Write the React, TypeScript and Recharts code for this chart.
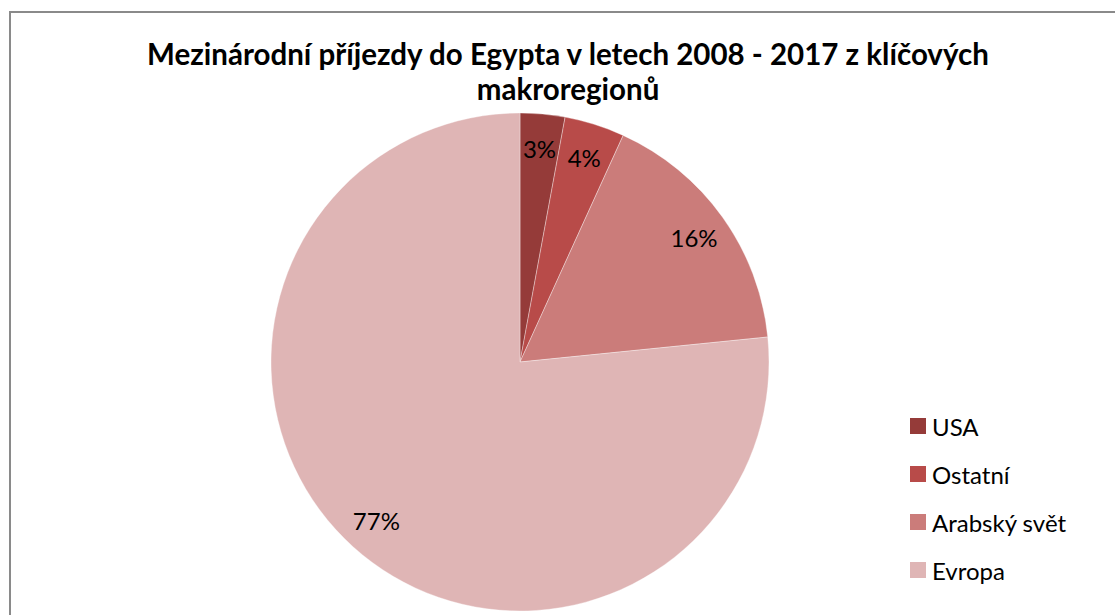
import { PieChart, Pie, Cell, Legend } from 'recharts'

const regions = ['USA', 'Ostatní', 'Arabský svět', 'Evropa']
const shares = [2.9, 3.9, 16.6, 76.6]
const percentLabels = ['3%', '4%', '16%', '77%']

const COLORS = ['#953b39', '#b84b49', '#cb7c7a', '#dfb5b5']

const data = regions.map((name, i) => ({ name, value: shares[i], label: percentLabels[i] }))

const RAD = Math.PI / 180

const renderLabel = (props: any) => {
  const { cx, cy, midAngle, outerRadius, index } = props
  const r = outerRadius * 0.86
  const x = cx + r * Math.cos(-midAngle * RAD)
  const y = cy + r * Math.sin(-midAngle * RAD)
  return (
    <text
      x={x}
      y={y}
      fill="#000"
      textAnchor="middle"
      dominantBaseline="central"
      style={{ fontFamily: 'Lato, sans-serif', fontSize: 24 }}
    >
      {data[index].label}
    </text>
  )
}

const renderLegend = () => (
  <div style={{ fontFamily: 'Lato, sans-serif', fontSize: 24, color: '#000' }}>
    {data.map((d, i) => (
      <div key={d.name} style={{ display: 'flex', alignItems: 'center', height: 48 }}>
        <span style={{ width: 16, height: 16, background: COLORS[i], marginRight: 6, display: 'inline-block' }} />
        <span>{d.name}</span>
      </div>
    ))}
  </div>
)

export default function App() {
  return (
    <div
      style={{
        position: 'absolute',
        left: 9,
        top: 11,
        width: 1106,
        height: 604,
        borderTop: '2px solid #8a8a8a',
        borderLeft: '2px solid #8a8a8a',
        boxSizing: 'border-box',
        background: '#fff',
      }}
    >
      <div
        style={{
          position: 'absolute',
          left: 57,
          top: 0,
          width: 1000,
          textAlign: 'center',
          fontFamily: 'Lato, sans-serif',
          fontWeight: 700,
          fontSize: 29.5,
          lineHeight: '35px',
          paddingTop: 23,
          color: '#000',
        }}
      >
        Mezinárodní příjezdy do Egypta v letech 2008 - 2017 z klíčových
        <br />
        makroregionů
      </div>
      <PieChart width={1104} height={602} style={{ position: 'absolute', left: 0, top: 0 }}>
        <Pie
          data={data}
          dataKey="value"
          nameKey="name"
          cx={504}
          cy={344}
          outerRadius={249}
          startAngle={90}
          endAngle={-270}
          label={renderLabel}
          labelLine={false}
          isAnimationActive={false}
        >
          {data.map((_, i) => (
            <Cell key={i} fill={COLORS[i]} stroke="#ffffff" strokeOpacity={0.35} strokeWidth={1} />
          ))}
        </Pie>
        <Legend
          content={renderLegend}
          layout="vertical"
          wrapperStyle={{ position: 'absolute', left: 899, top: 389, width: 200 }}
        />
      </PieChart>
    </div>
  )
}
